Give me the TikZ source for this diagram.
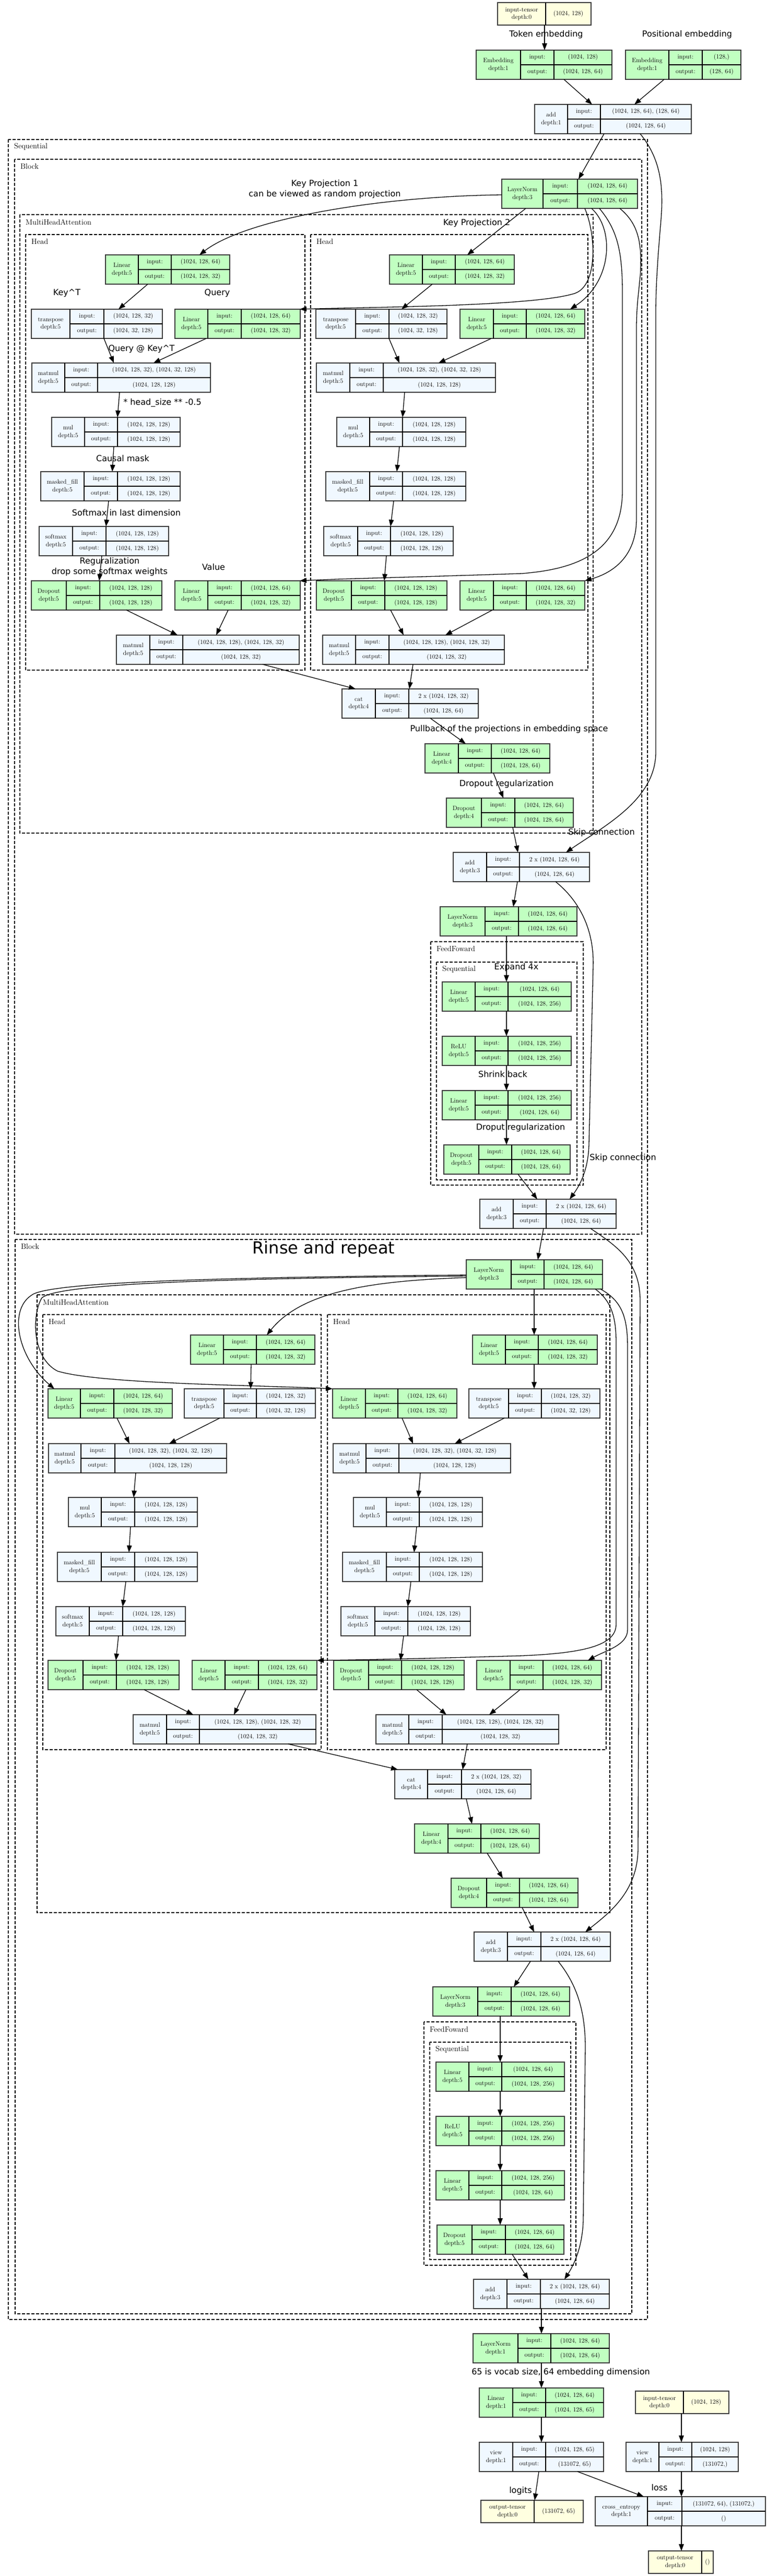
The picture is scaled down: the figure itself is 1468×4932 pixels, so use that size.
\documentclass[tikz,border=0pt]{standalone}
\usepackage{fontspec}
\newfontfamily\labfont{DejaVu Sans}
\usetikzlibrary{arrows.meta}
\definecolor{tgreen}{HTML}{C1FFC1}
\definecolor{tblue}{HTML}{F0F8FF}
\definecolor{tyellow}{HTML}{FFFFE0}
\definecolor{bord}{HTML}{3C3C3C}
\tikzset{
  opbox/.style={draw=bord, line width=1.8pt, inner sep=0pt, outer sep=0pt},
  vsep/.style={line width=1.4pt, draw=black},
  hsep/.style={line width=2.4pt, draw=black},
  celltxt/.style={inner sep=0pt, font=\fontsize{12}{14.5}\selectfont},
  cl/.style={draw=black, line width=1.2pt, dash pattern=on 6pt off 3pt},
  cltxt/.style={anchor=west, inner sep=0pt, font=\fontsize{14.5}{17}\selectfont},
  elab/.style={inner sep=0pt, align=center, font=\labfont\fontsize{16}{20}\selectfont},
  arr/.style={-{Triangle[length=13pt,width=9.5pt]}, line width=1.3pt},
}
\newcommand\opn[9]{%
  \node[opbox, fill=#2, minimum width={#7-#3}, minimum height=56, anchor=north west] (#1) at (#3,#4) {};
  \draw[vsep] (#5,#4) -- (#5,#4+56);
  \draw[vsep] (#6,#4) -- (#6,#4+56);
  \draw[hsep] (#5,#4+28) -- (#7,#4+28);
  \node[celltxt, align=center] (#1-n) at ({(#3+#5)/2},#4+28) {#8};
  \node[celltxt] (#1-ik) at ({(#5+#6)/2},#4+14) {input:};
  \node[celltxt] (#1-ok) at ({(#5+#6)/2},#4+42) {output:};
  \node[celltxt] (#1-iv) at ({(#6+#7)/2},#4+14) {#9};
  \opnout{#1}{#6}{#7}{#4}}
\newcommand\opnout[5]{\node[celltxt] (#1-ov) at ({(#2+#3)/2},#4+42) {#5};}
\newcommand\tnn[7]{%
  \node[opbox, fill=tyellow, minimum width={#5-#2}, minimum height=43, anchor=north west] (#1) at (#2,#3) {};
  \draw[vsep] (#4,#3) -- (#4,#3+43);
  \node[celltxt, align=center] (#1-n) at ({(#2+#4)/2},#3+21.5) {#6};
  \node[celltxt] (#1-v) at ({(#4+#5)/2},#3+21.5) {#7};}
\newcommand\clu[6]{%
  \draw[cl] (#2,#3) rectangle (#4,#5);
  \node[cltxt] (#1) at (#2+11,#3+14) {#6};}
\begin{document}
\begin{tikzpicture}[x=1pt,y=-1pt]
\useasboundingbox (0,0) rectangle (1468,4932);
% clusters
\clu{cseq}{16}{267}{1240}{4441}{Sequential}
\clu{cb1}{28}{305}{1229}{2363}{Block}
\clu{cmha1}{38}{411}{1136}{1595}{MultiHeadAttention}
\clu{ch1}{49}{449}{584}{1283}{Head}
\clu{ch2}{595}{449}{1126}{1283}{Head}
\clu{cff1}{825}{1803}{1117}{2269}{FeedFoward}
\clu{cfs1}{836}{1842}{1105}{2259}{Sequential}
\clu{cb2}{29}{2373}{1210}{4430}{Block}
\clu{cmha2}{71}{2479}{1168}{3662}{MultiHeadAttention}
\clu{ch3}{82}{2517}{615}{3350}{Head}
\clu{ch4}{627}{2517}{1161}{3350}{Head}
\clu{cff2}{812}{3871}{1103}{4337}{FeedFoward}
\clu{cfs2}{823}{3910}{1093}{4326}{Sequential}
% top
\tnn{in0}{953}{5}{1045}{1132}{input-tensor\\depth:0}{(1024, 128)}
\opn{emb1}{tgreen}{912}{96}{997}{1061}{1172}{Embedding\\depth:1}{(1024, 128)}{(1024, 128, 64)}
\opn{emb2}{tgreen}{1198}{96}{1281}{1345}{1419}{Embedding\\depth:1}{(128,)}{(128, 64)}
\opn{add0}{tblue}{1024}{200}{1087}{1150}{1324}{add\\depth:1}{(1024, 128, 64), (128, 64)}{(1024, 128, 64)}
% block 1
\opn{ln1}{tgreen}{961}{343}{1040}{1106}{1221}{LayerNorm\\depth:3}{(1024, 128, 64)}{(1024, 128, 64)}
\opn{lk1}{tgreen}{202}{488}{265}{328}{440}{Linear\\depth:5}{(1024, 128, 64)}{(1024, 128, 32)}
\opn{lk2}{tgreen}{746}{488}{809}{872}{985}{Linear\\depth:5}{(1024, 128, 64)}{(1024, 128, 32)}
\opn{tr1}{tblue}{60}{592}{134}{199}{311}{transpose\\depth:5}{(1024, 128, 32)}{(1024, 32, 128)}
\opn{lq1}{tgreen}{335}{592}{398}{462}{575}{Linear\\depth:5}{(1024, 128, 64)}{(1024, 128, 32)}
\opn{tr2}{tblue}{605}{592}{681}{745}{856}{transpose\\depth:5}{(1024, 128, 32)}{(1024, 32, 128)}
\opn{lq2}{tgreen}{881}{592}{945}{1008}{1120}{Linear\\depth:5}{(1024, 128, 64)}{(1024, 128, 32)}
\opn{mm1}{tblue}{61}{695}{124}{187}{403}{matmul\\depth:5}{(1024, 128, 32), (1024, 32, 128)}{(1024, 128, 128)}
\opn{mm2}{tblue}{606}{695}{670}{734}{949}{matmul\\depth:5}{(1024, 128, 32), (1024, 32, 128)}{(1024, 128, 128)}
\opn{mul1}{tblue}{99}{799}{162}{225}{345}{mul\\depth:5}{(1024, 128, 128)}{(1024, 128, 128)}
\opn{mul2}{tblue}{645}{799}{708}{771}{892}{mul\\depth:5}{(1024, 128, 128)}{(1024, 128, 128)}
\opn{mf1}{tblue}{78}{903}{161}{225}{345}{masked\_fill\\depth:5}{(1024, 128, 128)}{(1024, 128, 128)}
\opn{mf2}{tblue}{624}{903}{708}{771}{892}{masked\_fill\\depth:5}{(1024, 128, 128)}{(1024, 128, 128)}
\opn{sm1}{tblue}{75}{1008}{139}{203}{323}{softmax\\depth:5}{(1024, 128, 128)}{(1024, 128, 128)}
\opn{sm2}{tblue}{620}{1008}{685}{748}{868}{softmax\\depth:5}{(1024, 128, 128)}{(1024, 128, 128)}
\opn{do1}{tgreen}{60}{1112}{127}{191}{310}{Dropout\\depth:5}{(1024, 128, 128)}{(1024, 128, 128)}
\opn{lv1}{tgreen}{335}{1112}{398}{462}{575}{Linear\\depth:5}{(1024, 128, 64)}{(1024, 128, 32)}
\opn{do2}{tgreen}{606}{1112}{673}{737}{856}{Dropout\\depth:5}{(1024, 128, 128)}{(1024, 128, 128)}
\opn{lv2}{tgreen}{881}{1112}{945}{1008}{1120}{Linear\\depth:5}{(1024, 128, 64)}{(1024, 128, 32)}
\opn{mmb1}{tblue}{223}{1216}{287}{350}{573}{matmul\\depth:5}{(1024, 128, 128), (1024, 128, 32)}{(1024, 128, 32)}
\opn{mmb2}{tblue}{618}{1216}{681}{745}{966}{matmul\\depth:5}{(1024, 128, 128), (1024, 128, 32)}{(1024, 128, 32)}
\opn{cat1}{tblue}{655}{1319}{719}{783}{916}{cat\\depth:4}{2 x (1024, 128, 32)}{(1024, 128, 64)}
\opn{lo1}{tgreen}{814}{1424}{878}{941}{1053}{Linear\\depth:4}{(1024, 128, 64)}{(1024, 128, 64)}
\opn{dr1}{tgreen}{855}{1528}{922}{986}{1098}{Dropout\\depth:4}{(1024, 128, 64)}{(1024, 128, 64)}
\opn{add1}{tblue}{868}{1632}{932}{995}{1129}{add\\depth:3}{2 x (1024, 128, 64)}{(1024, 128, 64)}
\opn{ln2}{tgreen}{843}{1736}{929}{993}{1105}{LayerNorm\\depth:3}{(1024, 128, 64)}{(1024, 128, 64)}
\opn{f1a}{tgreen}{847}{1880}{910}{973}{1094}{Linear\\depth:5}{(1024, 128, 64)}{(1024, 128, 256)}
\opn{f1b}{tgreen}{847}{1984}{910}{973}{1094}{ReLU\\depth:5}{(1024, 128, 256)}{(1024, 128, 256)}
\opn{f1c}{tgreen}{847}{2088}{910}{973}{1094}{Linear\\depth:5}{(1024, 128, 256)}{(1024, 128, 64)}
\opn{f1d}{tgreen}{850}{2192}{917}{980}{1092}{Dropout\\depth:5}{(1024, 128, 64)}{(1024, 128, 64)}
\opn{add2}{tblue}{919}{2296}{983}{1046}{1180}{add\\depth:3}{2 x (1024, 128, 64)}{(1024, 128, 64)}
% block 2
\opn{ln3}{tgreen}{893}{2412}{979}{1042}{1154}{LayerNorm\\depth:3}{(1024, 128, 64)}{(1024, 128, 64)}
\opn{lk3}{tgreen}{365}{2556}{428}{491}{603}{Linear\\depth:5}{(1024, 128, 64)}{(1024, 128, 32)}
\opn{lk4}{tgreen}{905}{2556}{968}{1031}{1144}{Linear\\depth:5}{(1024, 128, 64)}{(1024, 128, 32)}
\opn{lq3}{tgreen}{92}{2659}{154}{218}{330}{Linear\\depth:5}{(1024, 128, 64)}{(1024, 128, 32)}
\opn{tr3}{tblue}{353}{2659}{429}{491}{604}{transpose\\depth:5}{(1024, 128, 32)}{(1024, 32, 128)}
\opn{lq4}{tgreen}{637}{2659}{700}{762}{875}{Linear\\depth:5}{(1024, 128, 64)}{(1024, 128, 32)}
\opn{tr4}{tblue}{898}{2659}{974}{1037}{1149}{transpose\\depth:5}{(1024, 128, 32)}{(1024, 32, 128)}
\opn{mm3}{tblue}{93}{2764}{155}{220}{434}{matmul\\depth:5}{(1024, 128, 32), (1024, 32, 128)}{(1024, 128, 128)}
\opn{mm4}{tblue}{638}{2764}{701}{764}{978}{matmul\\depth:5}{(1024, 128, 32), (1024, 32, 128)}{(1024, 128, 128)}
\opn{mul3}{tblue}{131}{2867}{194}{258}{378}{mul\\depth:5}{(1024, 128, 128)}{(1024, 128, 128)}
\opn{mul4}{tblue}{677}{2867}{740}{803}{924}{mul\\depth:5}{(1024, 128, 128)}{(1024, 128, 128)}
\opn{mf3}{tblue}{110}{2972}{194}{258}{378}{masked\_fill\\depth:5}{(1024, 128, 128)}{(1024, 128, 128)}
\opn{mf4}{tblue}{656}{2972}{740}{803}{924}{masked\_fill\\depth:5}{(1024, 128, 128)}{(1024, 128, 128)}
\opn{sm3}{tblue}{107}{3076}{171}{235}{355}{softmax\\depth:5}{(1024, 128, 128)}{(1024, 128, 128)}
\opn{sm4}{tblue}{653}{3076}{718}{781}{901}{softmax\\depth:5}{(1024, 128, 128)}{(1024, 128, 128)}
\opn{do3}{tgreen}{92}{3179}{159}{223}{343}{Dropout\\depth:5}{(1024, 128, 128)}{(1024, 128, 128)}
\opn{lv3}{tgreen}{368}{3179}{431}{495}{607}{Linear\\depth:5}{(1024, 128, 64)}{(1024, 128, 32)}
\opn{do4}{tgreen}{639}{3179}{706}{769}{889}{Dropout\\depth:5}{(1024, 128, 128)}{(1024, 128, 128)}
\opn{lv4}{tgreen}{913}{3179}{977}{1040}{1152}{Linear\\depth:5}{(1024, 128, 64)}{(1024, 128, 32)}
\opn{mmb3}{tblue}{255}{3283}{319}{382}{605}{matmul\\depth:5}{(1024, 128, 128), (1024, 128, 32)}{(1024, 128, 32)}
\opn{mmb4}{tblue}{720}{3283}{783}{847}{1070}{matmul\\depth:5}{(1024, 128, 128), (1024, 128, 32)}{(1024, 128, 32)}
\opn{cat2}{tblue}{756}{3388}{819}{884}{1017}{cat\\depth:4}{2 x (1024, 128, 32)}{(1024, 128, 64)}
\opn{lo2}{tgreen}{794}{3492}{858}{921}{1033}{Linear\\depth:4}{(1024, 128, 64)}{(1024, 128, 64)}
\opn{dr2}{tgreen}{864}{3596}{932}{995}{1107}{Dropout\\depth:4}{(1024, 128, 64)}{(1024, 128, 64)}
\opn{add3}{tblue}{908}{3699}{972}{1036}{1169}{add\\depth:3}{2 x (1024, 128, 64)}{(1024, 128, 64)}
\opn{ln4}{tgreen}{829}{3804}{915}{979}{1091}{LayerNorm\\depth:3}{(1024, 128, 64)}{(1024, 128, 64)}
\opn{f2a}{tgreen}{835}{3948}{898}{961}{1081}{Linear\\depth:5}{(1024, 128, 64)}{(1024, 128, 256)}
\opn{f2b}{tgreen}{835}{4052}{898}{961}{1081}{ReLU\\depth:5}{(1024, 128, 256)}{(1024, 128, 256)}
\opn{f2c}{tgreen}{835}{4156}{898}{961}{1081}{Linear\\depth:5}{(1024, 128, 256)}{(1024, 128, 64)}
\opn{f2d}{tgreen}{837}{4260}{904}{968}{1080}{Dropout\\depth:5}{(1024, 128, 64)}{(1024, 128, 64)}
\opn{add4}{tblue}{907}{4364}{971}{1035}{1167}{add\\depth:3}{2 x (1024, 128, 64)}{(1024, 128, 64)}
% head of model
\opn{ln5}{tgreen}{906}{4468}{992}{1055}{1167}{LayerNorm\\depth:1}{(1024, 128, 64)}{(1024, 128, 64)}
\opn{linf}{tgreen}{918}{4572}{982}{1045}{1156}{Linear\\depth:1}{(1024, 128, 64)}{(1024, 128, 65)}
\opn{view1}{tblue}{918}{4676}{982}{1045}{1156}{view\\depth:1}{(1024, 128, 65)}{(131072, 65)}
\tnn{in1}{1217}{4578}{1309}{1396}{input-tensor\\depth:0}{(1024, 128)}
\opn{view2}{tblue}{1199}{4676}{1262}{1325}{1414}{view\\depth:1}{(1024, 128)}{(131072,)}
\tnn{out0}{921}{4787}{1023}{1117}{output-tensor\\depth:0}{(131072, 65)}
\opn{ce}{tblue}{1140}{4780}{1240}{1306}{1466}{cross\_entropy\\depth:1}{(131072, 64), (131072,)}{()}
\tnn{out1}{1242}{4884}{1344}{1366}{output-tensor\\depth:0}{()}
% edge labels
\node[elab] (t1) at (1046,66) {Token embedding};
\node[elab] (t2) at (1316,66) {Positional embedding};
\node[elab] (t3) at (622,362) {Key Projection 1\\can be viewed as random projection};
\node[elab] (t4) at (913,427) {Key Projection 2};
\node[elab] (t5) at (128,561) {Key\textasciicircum T};
\node[elab] (t6) at (416,561) {Query};
\node[elab] (t7) at (271,668) {Query @ Key\textasciicircum T};
\node[elab] (t8) at (311,771) {* head\_size ** -0.5};
\node[elab] (t9) at (235,878) {Causal mask};
\node[elab] (t10) at (242,982) {Softmax in last dimension};
\node[elab] (t11) at (210,1085) {Reguralization\\drop some softmax weights};
\node[elab] (t12) at (409,1086) {Value};
\node[elab] (t13) at (975,1396) {Pullback of the projections in embedding space};
\node[elab] (t14) at (970,1501) {Dropout regularization};
\node[elab] (t15) at (1152,1594) {Skip connection};
\node[elab] (t16) at (989,1852) {Expand 4x};
\node[elab] (t17) at (963,2057) {Shrink back};
\node[elab] (t18) at (997,2159) {Droput regularization};
\node[elab] (t19) at (1193,2217) {Skip connection};
\node[elab, font=\labfont\fontsize{32}{38}\selectfont] (t20) at (620,2392) {Rinse and repeat};
\node[elab] (t21) at (1074,4542) {65 is vocab size, 64 embedding dimension};
\node[elab] (t22) at (997,4769) {logits};
\node[elab] (t23) at (1263,4762) {loss};
% edges top
\draw[arr] (in0.south -| 1043,0) -- (emb1.north -| 1043,0);
\draw[arr] (emb1.south -| 1080,0) -- (add0.north -| 1134,0);
\draw[arr] (emb2.south -| 1272,0) -- (add0.north -| 1215,0);
\draw[arr] (add0.south -| 1157,0) -- (ln1.north -| 1108,0);
\draw[arr] (add0.south -| 1226,0) .. controls (1262,300) and (1272,350) .. (1266,420) .. controls (1261,480) and (1256,540) .. (1256,600) -- (1256,1440) .. controls (1256,1530) and (1160,1580) .. (add1.north -| 1084,0);
% block 1 fan-out
\draw[arr] (ln1.west |- 0,373) .. controls (720,376) and (470,420) .. (lk1.north -| 382,0);
\draw[arr] (ln1.south -| 1007,0) -- (lk2.north -| 895,0);
\draw[arr] (ln1.south -| 1120,0) .. controls (1142,450) and (1145,548) .. (1100,562) .. controls (1020,587) and (700,588) .. (lq1.north -| 574,0);
\draw[arr] (ln1.south -| 1133,0) .. controls (1178,440) and (1172,540) .. (lq2.north -| 1092,0);
\draw[arr] (ln1.south -| 1148,0) .. controls (1182,440) and (1192,480) .. (1192,560) -- (1192,940) .. controls (1192,1060) and (1100,1090) .. (1000,1098) .. controls (800,1105) and (650,1108) .. (lv1.north -| 574,0);
\draw[arr] (ln1.south -| 1187,0) .. controls (1225,430) and (1230,470) .. (1226,530) .. controls (1222,570) and (1219,590) .. (1219,630) -- (1219,990) .. controls (1220,1060) and (1180,1095) .. (lv2.north -| 1120,0);
% head 1
\draw[arr] (lk1.south -| 283,0) -- (tr1.north -| 227,0);
\draw[arr] (tr1.south -| 199,0) -- (mm1.north -| 218,0);
\draw[arr] (lq1.south -| 395,0) -- (mm1.north -| 294,0);
\draw[arr] (mm1.south -| 229,0) -- (mul1.north -| 225,0);
\draw[arr] (mul1.south -| 218,0) -- (mf1.north -| 215,0);
\draw[arr] (mf1.south -| 208,0) -- (sm1.north -| 203,0);
\draw[arr] (sm1.south -| 195,0) -- (do1.north -| 190,0);
\draw[arr] (do1.south -| 242,0) -- (mmb1.north -| 340,0);
\draw[arr] (lv1.south -| 437,0) -- (mmb1.north -| 414,0);
\draw[arr] (mmb1.south -| 503,0) -- (cat1.north -| 681,0);
% head 2
\draw[arr] (lk2.south -| 828,0) -- (tr2.north -| 769,0);
\draw[arr] (tr2.south -| 745,0) -- (mm2.north -| 765,0);
\draw[arr] (lq2.south -| 941,0) -- (mm2.north -| 840,0);
\draw[arr] (mm2.south -| 775,0) -- (mul2.north -| 771,0);
\draw[arr] (mul2.south -| 765,0) -- (mf2.north -| 760,0);
\draw[arr] (mf2.south -| 754,0) -- (sm2.north -| 748,0);
\draw[arr] (sm2.south -| 740,0) -- (do2.north -| 736,0);
\draw[arr] (do2.south -| 748,0) -- (mmb2.north -| 773,0);
\draw[arr] (lv2.south -| 943,0) -- (mmb2.north -| 853,0);
\draw[arr] (mmb2.south -| 791,0) -- (cat1.north -| 784,0);
% block 1 tail
\draw[arr] (cat1.south -| 824,0) -- (lo1.north -| 892,0);
\draw[arr] (lo1.south -| 945,0) -- (dr1.north -| 964,0);
\draw[arr] (dr1.south -| 982,0) -- (add1.north -| 992,0);
\draw[arr] (add1.south -| 991,0) -- (ln2.north -| 983,0);
\draw[arr] (ln2.south -| 970,0) -- (f1a.north -| 970,0);
\draw[arr] (f1a.south -| 970,0) -- (f1b.north -| 970,0);
\draw[arr] (f1b.south -| 970,0) -- (f1c.north -| 970,0);
\draw[arr] (f1c.south -| 970,0) -- (f1d.north -| 970,0);
\draw[arr] (f1d.south -| 992,0) -- (add2.north -| 1029,0);
\draw[arr] (add1.south -| 1064,0) .. controls (1110,1725) and (1138,1780) .. (1136,1850) -- (1128,2190) .. controls (1127,2240) and (1110,2270) .. (add2.north -| 1091,0);
\draw[arr] (add2.south -| 1041,0) -- (ln3.north -| 1030,0);
\draw[arr] (add2.south -| 1131,0) .. controls (1180,2385) and (1226,2415) .. (1226,2490) -- (1222,3540) .. controls (1221,3620) and (1170,3660) .. (add3.north -| 1121,0);
% block 2 fan-out
\draw[arr] (ln3.west |- 0,2446) .. controls (720,2452) and (580,2470) .. (lk3.north -| 511,0);
\draw[arr] (ln3.south -| 1023,0) -- (lk4.north -| 1023,0);
\draw[arr] (ln3.west |- 0,2441) .. controls (400,2446) and (90,2455) .. (60,2480) .. controls (15,2510) and (35,2600) .. (lq3.north -| 104,0);
\draw[arr] (ln3.west |- 0,2443) .. controls (400,2448) and (110,2458) .. (80,2485) .. controls (60,2520) and (62,2600) .. (110,2625) .. controls (190,2650) and (500,2652) .. (lq4.north west);
\draw[arr] (ln3.south -| 1140,0) .. controls (1170,2490) and (1180,2520) .. (1180,2570) -- (1180,3110) .. controls (1180,3150) and (1120,3165) .. (1000,3170) .. controls (800,3176) and (680,3178) .. (lv3.north -| 607,0);
\draw[arr] (ln3.south -| 1150,0) .. controls (1190,2490) and (1202,2520) .. (1202,2580) -- (1202,3120) .. controls (1202,3150) and (1160,3160) .. (lv4.north -| 1126,0);
% head 3
\draw[arr] (lk3.south -| 481,0) -- (tr3.north -| 480,0);
\draw[arr] (lq3.south -| 224,0) -- (mm3.north -| 248,0);
\draw[arr] (tr3.south -| 421,0) -- (mm3.north -| 324,0);
\draw[arr] (mm3.south -| 260,0) -- (mul3.north -| 256,0);
\draw[arr] (mul3.south -| 250,0) -- (mf3.north -| 247,0);
\draw[arr] (mf3.south -| 241,0) -- (sm3.north -| 235,0);
\draw[arr] (sm3.south -| 227,0) -- (do3.north -| 222,0);
\draw[arr] (do3.south -| 276,0) -- (mmb3.north -| 370,0);
\draw[arr] (lv3.south -| 471,0) -- (mmb3.north -| 448,0);
\draw[arr] (mmb3.south -| 552,0) -- (cat2.north -| 762,0);
% head 4
\draw[arr] (lk4.south -| 1023,0) -- (tr4.north -| 1023,0);
\draw[arr] (lq4.south -| 770,0) -- (mm4.north -| 791,0);
\draw[arr] (tr4.south -| 966,0) -- (mm4.north -| 871,0);
\draw[arr] (mm4.south -| 805,0) -- (mul4.north -| 801,0);
\draw[arr] (mul4.south -| 798,0) -- (mf4.north -| 793,0);
\draw[arr] (mf4.south -| 787,0) -- (sm4.north -| 781,0);
\draw[arr] (sm4.south -| 773,0) -- (do4.north -| 767,0);
\draw[arr] (do4.south -| 798,0) -- (mmb4.north -| 855,0);
\draw[arr] (lv4.south -| 996,0) -- (mmb4.north -| 937,0);
\draw[arr] (mmb4.south -| 895,0) -- (cat2.north -| 886,0);
% block 2 tail
\draw[arr] (cat2.south -| 893,0) -- (lo2.north -| 904,0);
\draw[arr] (lo2.south -| 933,0) -- (dr2.north -| 963,0);
\draw[arr] (dr2.south -| 1000,0) -- (add3.north -| 1023,0);
\draw[arr] (add3.south -| 1016,0) -- (ln4.north -| 984,0);
\draw[arr] (ln4.south -| 958,0) -- (f2a.north -| 958,0);
\draw[arr] (f2a.south -| 958,0) -- (f2b.north -| 958,0);
\draw[arr] (f2b.south -| 958,0) -- (f2c.north -| 958,0);
\draw[arr] (f2c.south -| 958,0) -- (f2d.north -| 958,0);
\draw[arr] (f2d.south -| 981,0) -- (add4.north -| 1012,0);
\draw[arr] (add3.south -| 1069,0) .. controls (1105,3800) and (1121,3850) .. (1121,3920) -- (1117,4250) .. controls (1116,4300) and (1100,4335) .. (add4.north -| 1081,0);
% final
\draw[arr] (add4.south -| 1037,0) -- (ln5.north -| 1037,0);
\draw[arr] (ln5.south -| 1037,0) -- (linf.north -| 1037,0);
\draw[arr] (linf.south -| 1037,0) -- (view1.north -| 1037,0);
\draw[arr] (view1.south -| 1032,0) -- (out0.north -| 1024,0);
\draw[arr] (view1.south -| 1106,0) -- (ce.north -| 1233,0);
\draw[arr] (in1.south -| 1305,0) -- (view2.north -| 1305,0);
\draw[arr] (view2.south -| 1305,0) -- (ce.north -| 1305,0);
\draw[arr] (ce.south -| 1305,0) -- (out1.north -| 1305,0);
\end{tikzpicture}
\end{document}
